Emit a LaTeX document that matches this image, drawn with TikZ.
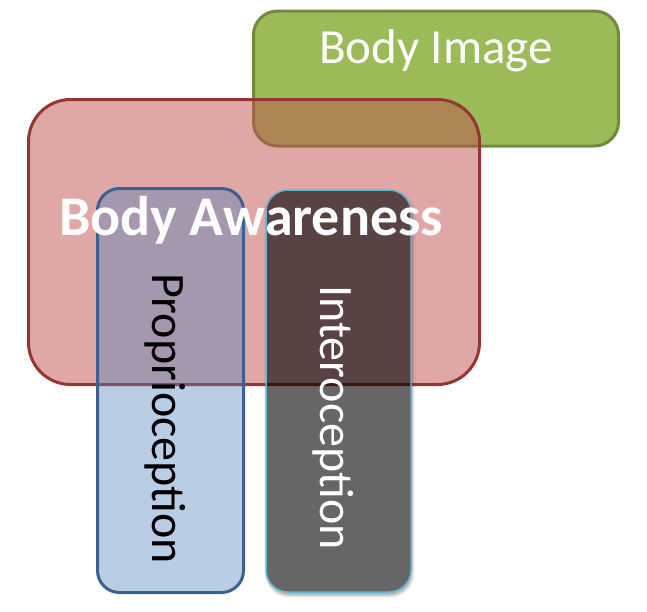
\documentclass[tikz,border=0pt]{standalone}
\usepackage{fontspec}
\setmainfont{Carlito}
\usetikzlibrary{shadows.blur}
\definecolor{greenfill}{HTML}{9BBB59}
\definecolor{greenline}{HTML}{71893F}
\definecolor{redfill}{HTML}{C0504D}
\definecolor{redline}{HTML}{943634}
\definecolor{bluefill}{HTML}{4F81BD}
\definecolor{blueline}{HTML}{3B6190}
\definecolor{cyanline}{HTML}{5DB8D2}
\tikzset{
  boxbase/.style={rectangle, inner sep=0pt, outer sep=0pt},
  greenbox/.style={boxbase, fill=greenfill, draw=greenline, line width=3pt, rounded corners=24pt},
  redbox/.style={boxbase, fill=redfill, fill opacity=0.5, draw=redline, draw opacity=1, line width=3pt, rounded corners=42pt},
  bluebox/.style={boxbase, fill=bluefill, fill opacity=0.4, draw=blueline, draw opacity=1, line width=3pt, rounded corners=22pt},
  darkbox/.style={boxbase, fill=black, fill opacity=0.6, draw=cyanline, draw opacity=1, line width=1.5pt, rounded corners=22pt},
  whitelabel/.style={text=white, inner sep=0pt, outer sep=0pt},
  vertlabel/.style={inner sep=0pt, outer sep=0pt, rotate=-90, anchor=base, font=\fontsize{48}{52}\selectfont}
}
\begin{document}
\begin{tikzpicture}[x=1pt, y=-1pt]
\useasboundingbox (0,0) rectangle (647,611);
\node[greenbox, minimum width=365pt, minimum height=135pt] (image) at (436,78.5) {};
\node[redbox, minimum width=451pt, minimum height=285pt] (aware) at (254,242) {};
\node[bluebox, minimum width=146pt, minimum height=404pt] (prop) at (170.5,390.5) {};
% soft shadow under the dark box, kept outside the box itself
\begin{scope}[even odd rule, rounded corners=22pt]
  \clip (-100,-100) rectangle (750,750)
    (265.5,189.5) rectangle (411.5,592.5);
  \path[fill=white, fill opacity=0,
        blur shadow={shadow xshift=1pt, shadow yshift=-3pt, shadow blur radius=3pt, shadow blur steps=6, shadow opacity=40}]
    (266,190) rectangle (411,592);
\end{scope}
\node[darkbox, minimum width=145pt, minimum height=402pt] (intero) at (338.5,391) {};
\node[whitelabel, anchor=base, font=\fontsize{49}{52}\selectfont] (imagetext) at (436,63) {Body Image};
\node[whitelabel, anchor=base, font=\fontsize{56}{60}\selectfont\bfseries] (awaretext) at (251,235) {Body Awareness};
\node[vertlabel, text=black] (proptext) at (152,418.5) {Proprioception};
\node[vertlabel, text=white] (interotext) at (320,417.5) {Interoception};
\end{tikzpicture}
\end{document}
